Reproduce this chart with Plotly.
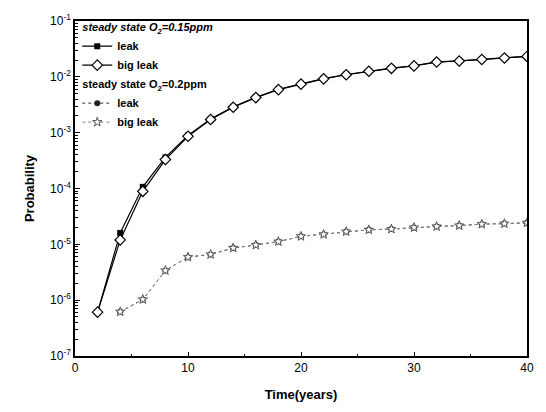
import plotly.graph_objects as go

time_a = [2, 4, 6, 8, 10, 12, 14, 16, 18, 20, 22, 24, 26, 28, 30, 32, 34, 36, 38, 40]
leak_015 = [6.1e-7, 1.6e-5, 1.07e-4, 3.6e-4, 8.9e-4, 1.75e-3, 2.9e-3, 4.3e-3, 6.0e-3, 7.5e-3,
            9.3e-3, 1.1e-2, 1.27e-2, 1.43e-2, 1.58e-2, 1.85e-2, 1.93e-2, 2.06e-2, 2.19e-2, 2.33e-2]
bigleak_015 = [6.1e-7, 1.2e-5, 8.9e-5, 3.3e-4, 8.6e-4, 1.72e-3, 2.85e-3, 4.25e-3, 5.9e-3, 7.4e-3,
               9.2e-3, 1.09e-2, 1.26e-2, 1.42e-2, 1.57e-2, 1.84e-2, 1.92e-2, 2.05e-2, 2.18e-2, 2.32e-2]

time_b = [4, 6, 8, 10, 12, 14, 16, 18, 20, 22, 24, 26, 28, 30, 32, 34, 36, 38, 40]
leak_02 = [6.2e-7, 1.03e-6, 3.4e-6, 5.9e-6, 6.6e-6, 8.6e-6, 9.7e-6, 1.12e-5, 1.39e-5, 1.51e-5,
           1.69e-5, 1.82e-5, 1.88e-5, 2.0e-5, 2.09e-5, 2.17e-5, 2.3e-5, 2.35e-5, 2.43e-5]
bigleak_02 = [6.2e-7, 1.03e-6, 3.4e-6, 5.9e-6, 6.6e-6, 8.6e-6, 9.7e-6, 1.12e-5, 1.39e-5, 1.51e-5,
              1.69e-5, 1.82e-5, 1.88e-5, 2.0e-5, 2.09e-5, 2.17e-5, 2.3e-5, 2.35e-5, 2.43e-5]

y_tickvals = [1e-7, 1e-6, 1e-5, 1e-4, 1e-3, 1e-2, 1e-1]
y_ticktext = ["10<sup>-7</sup>", "10<sup>-6</sup>", "10<sup>-5</sup>", "10<sup>-4</sup>",
              "10<sup>-3</sup>", "10<sup>-2</sup>", "10<sup>-1</sup>"]

FONT = "Liberation Sans, Arial, sans-serif"

fig = go.Figure()
fig.add_trace(go.Scatter(
    x=time_a, y=leak_015, name="<b>leak</b>", mode="lines+markers",
    legendgroup="g1",
    legendgrouptitle=dict(text="<b><i>steady state O<sub>2</sub>=0.15ppm</i></b>",
                          font=dict(size=11, family=FONT, color="black")),
    line=dict(color="black", width=1.2),
    marker=dict(symbol="square", size=6, color="black")))
fig.add_trace(go.Scatter(
    x=time_a, y=bigleak_015, name="<b>big leak</b>", mode="lines+markers",
    legendgroup="g1",
    line=dict(color="black", width=1.2),
    marker=dict(symbol="diamond", size=8, color="white", line=dict(color="black", width=1.2))))
fig.add_trace(go.Scatter(
    x=time_b, y=leak_02, name="<b>leak</b>", mode="lines+markers",
    legendgroup="g2",
    legendgrouptitle=dict(text="<b>steady state O<sub>2</sub>=0.2ppm</b>",
                          font=dict(size=11, family=FONT, color="black")),
    line=dict(color="#333333", width=1, dash="dot"),
    marker=dict(symbol="circle", size=6, color="#222222")))
fig.add_trace(go.Scatter(
    x=time_b, y=bigleak_02, name="<b>big leak</b>", mode="lines+markers",
    legendgroup="g2",
    line=dict(color="#888888", width=1, dash="dot"),
    marker=dict(symbol="star", size=7, color="white", line=dict(color="#555555", width=1))))

fig.update_layout(
    width=546, height=412,
    margin=dict(l=75, r=14, t=14, b=56),
    paper_bgcolor="white", plot_bgcolor="white",
    font=dict(family=FONT, size=11, color="black"),
    showlegend=True,
    legend=dict(x=0.005, y=1.025, xanchor="left", yanchor="top",
                bgcolor="rgba(0,0,0,0)", tracegroupgap=0,
                font=dict(size=11, family=FONT, color="black"),
                itemwidth=30),
    xaxis=dict(
        range=[0, 40], tickvals=[0, 10, 20, 30, 40],
        ticks="inside", ticklen=4, tickcolor="black",
        minor=dict(tickvals=[5, 15, 25, 35], ticks="inside", ticklen=2, tickcolor="black"),
        showline=True, linecolor="black", linewidth=1.5, mirror=True,
        showgrid=False, zeroline=False,
        tickfont=dict(size=12, family=FONT),
        title=dict(text="<b>Time(years)</b>", font=dict(size=13, family=FONT), standoff=16),
    ),
    yaxis=dict(
        type="log", range=[-7, -1],
        tickvals=y_tickvals, ticktext=y_ticktext,
        ticks="inside", ticklen=5, tickcolor="black",
        minor=dict(ticks="inside", ticklen=3, tickcolor="black", dtick="D1", showgrid=False),
        showline=True, linecolor="black", linewidth=1.5, mirror=True,
        showgrid=False, zeroline=False,
        tickfont=dict(size=12, family=FONT),
        title=dict(text="<b>Probability</b>", font=dict(size=13, family=FONT), standoff=12),
    ),
)

fig.write_html("out.html")
